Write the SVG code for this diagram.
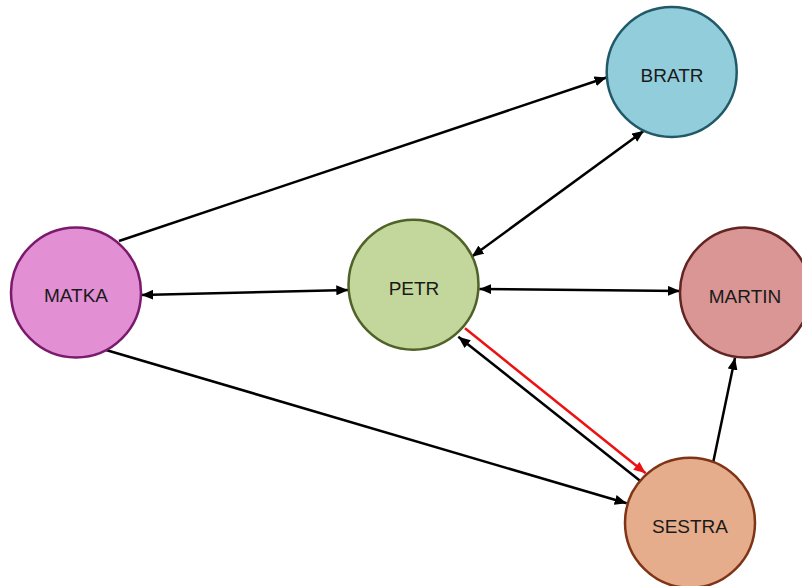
<svg xmlns="http://www.w3.org/2000/svg" width="802" height="586" viewBox="0 0 802 586">
<style>
.node circle{stroke-width:2.5}
.node text{font-family:"Liberation Sans",Arial,sans-serif;font-size:19px;fill:#1a1a1a;text-anchor:middle}
.edge{stroke:#000;stroke-width:2.5;fill:none}
.red{stroke:#ee1111}
</style>
<defs>
<marker id="ah" viewBox="0 0 12 10" refX="12" refY="5" markerWidth="12" markerHeight="10" markerUnits="userSpaceOnUse" orient="auto-start-reverse"><path d="M0,0 L12,5 L0,10 z" fill="#000"/></marker>
<marker id="ahr" viewBox="0 0 12 10" refX="12" refY="5" markerWidth="12" markerHeight="10" markerUnits="userSpaceOnUse" orient="auto"><path d="M0,0 L12,5 L0,10 z" fill="#ee1111"/></marker>
</defs>
<g id="connectors">
<line class="edge" x1="119" y1="241" x2="606.5" y2="77.5" marker-end="url(#ah)"/>
<line class="edge" x1="471.7" y1="256.7" x2="644" y2="130.7" marker-start="url(#ah)" marker-end="url(#ah)"/>
<line class="edge" x1="141.3" y1="295" x2="348.3" y2="290" marker-start="url(#ah)" marker-end="url(#ah)"/>
<line class="edge" x1="479.3" y1="289" x2="680" y2="291" marker-start="url(#ah)" marker-end="url(#ah)"/>
<line class="edge" x1="106" y1="350" x2="626.7" y2="503.3" marker-end="url(#ah)"/>
<line class="edge" x1="640" y1="480.7" x2="458.3" y2="336.7" marker-end="url(#ah)"/>
<line class="edge red" x1="465" y1="328.3" x2="645.7" y2="473.3" marker-end="url(#ahr)"/>
<line class="edge" x1="713.3" y1="461.7" x2="735" y2="357.7" marker-end="url(#ah)"/>
</g>
<g id="node-bratr" class="node"><circle cx="671.7" cy="72" r="65" fill="#92CDDC" stroke="#215968"/><text x="672" y="82">BRATR</text></g>
<g id="node-matka" class="node"><circle cx="76" cy="292.5" r="65" fill="#E28FD4" stroke="#7A1A6C"/><text x="76" y="302.3">MATKA</text></g>
<g id="node-petr" class="node"><circle cx="413.5" cy="284.7" r="65" fill="#C3D69B" stroke="#4F6228"/><text x="414" y="295.3">PETR</text></g>
<g id="node-martin" class="node"><circle cx="745" cy="292.5" r="65" fill="#D99694" stroke="#632523"/><text x="745" y="302.7">MARTIN</text></g>
<g id="node-sestra" class="node"><circle cx="690" cy="522.7" r="65" fill="#E6AD8C" stroke="#7F3416"/><text x="690" y="533.3">SESTRA</text></g>
</svg>
